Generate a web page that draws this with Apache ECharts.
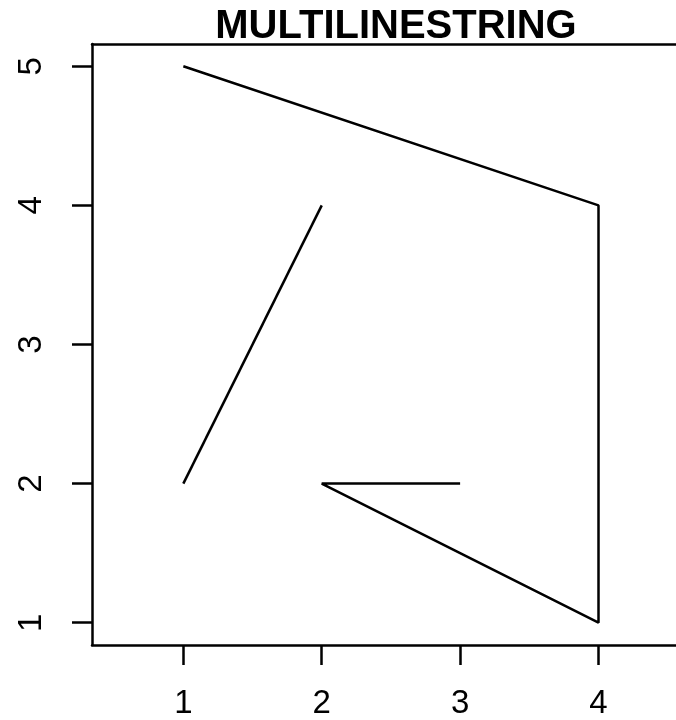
<!DOCTYPE html>
<html>
<head>
<meta charset="utf-8">
<script src="https://cdn.jsdelivr.net/npm/echarts@6/dist/echarts.min.js"></script>
<style>
  html, body { margin: 0; padding: 0; background: #fff; }
  #chart { width: 676px; height: 720px; }
</style>
</head>
<body>
<div id="chart"></div>
<script>
// MULTILINESTRING parts, as [x, y] vertices
const lineA = [[1, 5], [4, 4], [4, 1], [2, 2], [3, 2]];
const lineB = [[1, 2], [2, 4]];
const xTicks = [1, 2, 3, 4];
const yTicks = [1, 2, 3, 4, 5];

const chart = echarts.init(document.getElementById('chart'));
const font = 'Liberation Sans, Arial, Helvetica, sans-serif';
const frame = { show: true, lineStyle: { color: '#000', width: 2.5 } };

const lineSeries = (data) => ({
  type: 'line',
  data: data,
  showSymbol: false,
  symbol: 'none',
  lineStyle: { color: '#000', width: 2.5 },
  clip: true,
  silent: true
});

chart.setOption({
  animation: false,
  title: {
    text: 'MULTILINESTRING',
    left: 391,
    top: 2,
    textAlign: 'center',
    textStyle: { fontFamily: font, fontSize: 40, fontWeight: 'bold', color: '#000' }
  },
  // the plot box is cut off by the right edge of the picture, so no right border
  grid: {
    left: 92,
    top: 44,
    right: 0,
    bottom: 75,
    containLabel: false
  },
  xAxis: [
    {
      type: 'value',
      min: 0.34,
      max: 4.56,
      axisLine: frame,
      splitLine: { show: false },
      axisTick: { show: true, length: 20, lineStyle: { color: '#000', width: 2.5 }, customValues: xTicks },
      axisLabel: { customValues: xTicks, margin: 42, fontSize: 33, fontFamily: font, color: '#000' }
    },
    {
      // top edge of the box
      type: 'value',
      position: 'top',
      min: 0.34,
      max: 4.56,
      axisLine: frame,
      axisTick: { show: false },
      axisLabel: { show: false },
      splitLine: { show: false }
    }
  ],
  yAxis: {
    type: 'value',
    min: 0.84,
    max: 5.16,
    axisLine: frame,
    splitLine: { show: false },
    axisTick: { show: true, length: 20, lineStyle: { color: '#000', width: 2.5 }, customValues: yTicks },
    axisLabel: { customValues: yTicks, rotate: 90, margin: 44, fontSize: 33, fontFamily: font, color: '#000' }
  },
  series: [lineSeries(lineA), lineSeries(lineB)]
});
</script>
</body>
</html>
